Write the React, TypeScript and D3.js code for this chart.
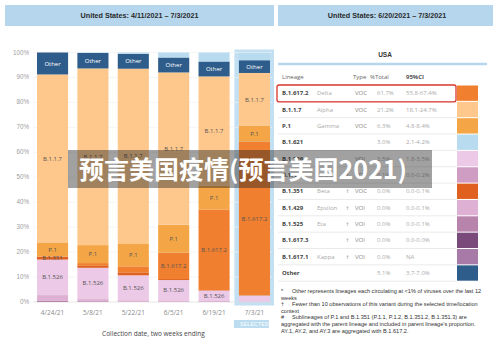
import React from "react";
import * as d3 from "d3";

const dates = ["4/24/21", "5/8/21", "5/22/21", "6/5/21", "6/19/21", "7/3/21"];
// stack order bottom -> top
const stackKeys = ["B.1.617.1", "B.1.617.3", "B.1.525", "B.1.429", "B.1.427", "B.1.526", "B.1.351", "B.1.617.2", "P.1", "B.1.1.7", "Other", "B.1.621"];
const sB1621 = [0, 0.2, 0.5, 2.0, 3.6, 3.0];
const sOther = [8.8, 6.2, 6.0, 6.0, 6.0, 5.1];
const sB117 = [67.3, 70.8, 70.0, 61.0, 43.7, 21.2];
const sP1 = [5.6, 7.2, 9.2, 11.2, 9.6, 6.3];
const sB16172 = [0.2, 0.9, 2.4, 10.6, 32.3, 61.7];
const sB1351 = [1.1, 1.0, 1.2, 0.4, 0.2, 0.0];
const sB1526 = [14.0, 12.3, 10.0, 8.2, 4.2, 2.5];
const sB1427 = [0.4, 0.3, 0.2, 0.2, 0.2, 0.1];
const sB1429 = [2.0, 0.8, 0.4, 0.3, 0.1, 0.0];
const sB1525 = [0.6, 0.3, 0.1, 0.1, 0.1, 0.0];
const sB16173 = [0, 0, 0, 0, 0, 0];
const sB16171 = [0, 0, 0, 0, 0, 0];
const yTicks = [0, 10, 20, 30, 40, 50, 60, 70, 80, 90, 100];
const extraLabels = [["4/24/21", "B.1.351"]];
const selectedDate = "7/3/21";

const tLineage = ["B.1.617.2", "B.1.1.7", "P.1", "B.1.621", "B.1.526", "B.1.427", "B.1.351", "B.1.429", "B.1.525", "B.1.617.3", "B.1.617.1", "Other"];
const tName = ["Delta", "Alpha", "Gamma", "", "Iota", "Epsilon", "Beta", "Epsilon", "Eta", "", "Kappa", ""];
const tDagger = ["", "", "", "", "", "†", "†", "†", "†", "†", "†", ""];
const tType = ["VOC", "VOC", "VOC", "", "VOI", "VOI", "VOC", "VOI", "VOI", "VOI", "VOI", ""];
const tPct = ["61.7%", "21.2%", "6.3%", "3.0%", "2.5%", "0.1%", "0.0%", "0.0%", "0.0%", "0.0%", "0.0%", "5.1%"];
const tCI = ["55.8-67.4%", "18.1-24.7%", "4.8-8.4%", "2.1-4.2%", "1.8-3.5%", "0.0-0.2%", "0.0-0.1%", "0.0-0.1%", "0.0-0.1%", "0.0-0.0%", "NA", "3.7-7.0%"];

const footnotes = [
  ["*", "Other represents lineages each circulating at <1% of viruses over the last 12"],
  ["", "weeks"],
  ["†", "Fewer than 10 observations of this variant during the selected time/location"],
  ["", "context"],
  ["#", "Sublineages of P.1 and B.1.351 (P.1.1, P.1.2, B.1.351.2, B.1.351.3) are"],
  ["", "aggregated with the parent lineage and included in parent lineage's proportion."],
  ["", "AY.1, AY.2, and AY.3 are aggregated with B.1.617.2."],
];

const colors: Record<string, string> = {
  "B.1.621": "#b9dbef",
  Other: "#2e5d8b",
  "B.1.1.7": "#fec88c",
  "P.1": "#f4a646",
  "B.1.617.2": "#f0802f",
  "B.1.351": "#e0611f",
  "B.1.526": "#ecc9e6",
  "B.1.427": "#cf9cc4",
  "B.1.429": "#ddb0d4",
  "B.1.525": "#b984ab",
  "B.1.617.3": "#7a4b7a",
  "B.1.617.1": "#a77aa8",
};

const seriesMap: Record<string, number[]> = {
  "B.1.621": sB1621, Other: sOther, "B.1.1.7": sB117, "P.1": sP1, "B.1.617.2": sB16172,
  "B.1.351": sB1351, "B.1.526": sB1526, "B.1.427": sB1427, "B.1.429": sB1429,
  "B.1.525": sB1525, "B.1.617.3": sB16173, "B.1.617.1": sB16171,
};

const FONT = "'Liberation Sans', Arial, sans-serif";

export default function App() {
  const W = 500, H = 346;
  const x = d3.scaleBand<string>().domain(dates).range([37, 270]).paddingInner(0.23).paddingOuter(0);
  const y = d3.scaleLinear().domain([0, 100]).range([302, 52.5]);
  const rows = dates.map((d, i) => {
    const o: Record<string, any> = { date: d };
    stackKeys.forEach((k) => (o[k] = seriesMap[k][i]));
    return o;
  });
  const stacked = d3.stack<any>().keys(stackKeys)(rows);
  const bw = x.bandwidth();
  const selX = x(selectedDate)!;

  // table
  const rowTop = 85;
  const rowH = 16.35;
  const tx = { lin: 282, name: 317, dag: 346, type: 355, pct: 377, ci: 406, swX: 457, swW: 21, lineL: 278, lineR: 456 };

  return (
    <svg width={W} height={H} style={{ position: "absolute", left: 0, top: 0, background: "#fff" }} fontFamily={FONT}>
      <rect x={0} y={0} width={W} height={H} fill="#fff" />
      {/* headers */}
      <rect x={5} y={5} width={269} height={21} fill="#b5d6ed" />
      <text x={139.5} y={18} textAnchor="middle" fontSize={7.2} fontWeight="bold" fill="#2a2a2a">United States: 4/11/2021 – 7/3/2021</text>
      <rect x={278} y={5} width={215} height={21} fill="#b5d6ed" />
      <text x={387} y={18} textAnchor="middle" fontSize={7.2} fontWeight="bold" fill="#2a2a2a">United States: 6/20/2021 – 7/3/2021</text>

      {/* selected highlight */}
      <rect x={selX - 4.5} y={49.5} width={bw + 8.5} height={256} fill="#c3e0f3" />

      {/* gridlines + y labels */}
      {yTicks.map((t) => (
        <g key={t}>
          <line x1={33} x2={272} y1={y(t)} y2={y(t)} stroke={t === 0 ? "#ddd" : "#f0f0f0"} strokeWidth={0.7} />
          <text x={29} y={y(t) + 2} textAnchor="end" fontSize={6.3} fill="#a0a0a0">{t}%</text>
        </g>
      ))}

      {/* bars */}
      {stacked.map((s) => (
        <g key={s.key} fill={colors[s.key]}>
          {s.map((d, i) => {
            const h = y(d[0]) - y(d[1]);
            if (h <= 0) return null;
            return <rect key={i} x={x(dates[i])} y={y(d[1])} width={bw} height={h} />;
          })}
        </g>
      ))}
      {/* segment labels */}
      {stacked.map((s) =>
        s.map((d, i) => {
          const v = d[1] - d[0];
          const extra = extraLabels.some((e) => e[0] === dates[i] && e[1] === s.key);
          if (!(v >= 4 && s.key !== "B.1.621") && !extra) return null;
          return (
            <text key={s.key + i} x={x(dates[i])! + bw / 2} y={y((d[0] + d[1]) / 2) + 2.2} textAnchor="middle"
              fontSize={6} fill={s.key === "Other" ? "#fff" : "#555"} fontFamily="'Open Sans', sans-serif">
              {s.key}
            </text>
          );
        })
      )}

      {/* x labels */}
      {dates.map((d) => (
        <text key={d} x={x(d)! + bw / 2} y={315} textAnchor="middle" fontSize={6.5} fill="#8a8a8a" fontFamily="'Open Sans', sans-serif">{d}</text>
      ))}
      <rect x={selX - 5} y={320} width={35} height={8} fill="#bcdcef" />
      <text x={selX + bw / 2} y={326} textAnchor="middle" fontSize={5} fill="#fff" letterSpacing={0.3}>SELECTED</text>
      <text x={153.5} y={336} textAnchor="middle" fontSize={6.5} fill="#444" fontFamily="'Open Sans', sans-serif">Collection date, two weeks ending</text>

      {/* right table */}
      <text x={385} y={57} textAnchor="middle" fontSize={6.5} fontWeight="bold" fill="#333">USA</text>
      <line x1={278} x2={487} y1={64} y2={64} stroke="#b5d6ed" strokeWidth={2.5} />
      <g fontSize={6} fill="#666" fontFamily="'Open Sans', sans-serif">
        <text x={tx.lin} y={79}>Lineage</text>
        <text x={tx.type - 2} y={79}>Type</text>
        <text x={tx.pct - 7} y={79}>%Total</text>
        <text x={tx.ci} y={79} fontWeight="bold" fill="#555">95%CI</text>
      </g>
      {tLineage.map((l, i) => {
        const top = rowTop + i * rowH;
        const cy = top + rowH / 2 + 2.1;
        return (
          <g key={l} fontFamily="'Open Sans', sans-serif" fontSize={6}>
            <line x1={tx.lineL} x2={tx.lineR} y1={top + rowH} y2={top + rowH} stroke="#dcdcdc" strokeWidth={0.6} />
            <rect x={tx.swX} y={top + 0.5} width={tx.swW} height={rowH - 1} fill={colors[l]} />
            <text x={tx.lin} y={cy} fontWeight="bold" fill="#444">{l}</text>
            <text x={tx.name} y={cy} fill="#aaa">{tName[i]}</text>
            <text x={tx.dag} y={cy} fill="#999">{tDagger[i]}</text>
            <text x={tx.type} y={cy} fill="#888">{tType[i]}</text>
            <text x={tx.pct} y={cy} fill="#aaa">{tPct[i]}</text>
            <text x={tx.ci} y={cy} fill="#aaa">{tCI[i]}</text>
          </g>
        );
      })}
      <rect x={277} y={rowTop} width={179} height={rowH + 0.5} rx={2} fill="none" stroke="#d9362c" strokeWidth={1.3} />

      {/* footnotes */}
      {footnotes.map((f, i) => (
        <g key={i} fontSize={5.6} fill="#333">
          <text x={281} y={293 + i * 6.6}>{f[0]}</text>
          <text x={f[0] ? 292 : 281} y={293 + i * 6.6}>{f[1]}</text>
        </g>
      ))}

      {/* overlay caption */}
      <rect x={68} y={150} width={364} height={38} fill="rgba(30,30,30,0.42)" />
      <text x={243} y={178.5} textAnchor="middle" fontSize={25} fontWeight="bold" fill="#fff" fontFamily="'Noto Sans CJK SC', sans-serif">预言美国疫情(预言美国2021)</text>
    </svg>
  );
}
